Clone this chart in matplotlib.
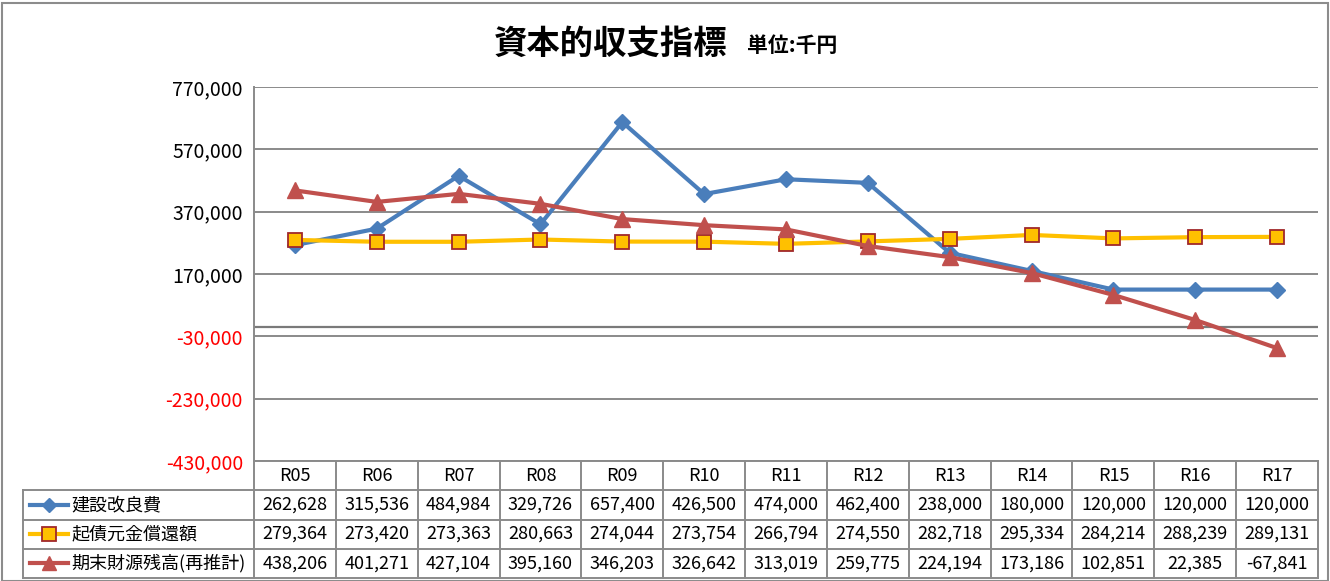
import matplotlib
matplotlib.use("Agg")
import matplotlib.pyplot as plt
from matplotlib.patches import Rectangle

# data
years = ["R05", "R06", "R07", "R08", "R09", "R10", "R11", "R12", "R13", "R14", "R15", "R16", "R17"]
kensetsu = [262628, 315536, 484984, 329726, 657400, 426500, 474000, 462400, 238000, 180000, 120000, 120000, 120000]
kisai = [279364, 273420, 273363, 280663, 274044, 273754, 266794, 274550, 282718, 295334, 284214, 288239, 289131]
zandaka = [438206, 401271, 427104, 395160, 346203, 326642, 313019, 259775, 224194, 173186, 102851, 22385, -67841]
names = ["建設改良費", "起債元金償還額", "期末財源残高(再推計)"]
yticks = [770000, 570000, 370000, 170000, -30000, -230000, -430000]

JP_FONT = ["Noto Sans CJK JP", "DejaVu Sans"]
plt.rcParams["font.family"] = JP_FONT

W, H = 1330, 581
fig = plt.figure(figsize=(W / 100, H / 100), dpi=100)

def px(x0, y0, x1, y1):
    # pixel box -> figure fraction
    return [x0 / W, 1 - y1 / H, (x1 - x0) / W, (y1 - y0) / H]

grid_c = "#8a8a8a"
styles = [
    dict(color="#4A7EBB", marker="D", ms=8, mfc="#4A7EBB", mec="#4A7EBB"),
    dict(color="#FFC000", marker="s", ms=10, mfc="#FFC000", mec="#A0282A", mew=1.3),
    dict(color="#C0504D", marker="^", ms=11, mfc="#C0504D", mec="#C0504D"),
]
series = [kensetsu, kisai, zandaka]

ax = fig.add_axes(px(254, 87, 1318, 461))
xs = list(range(len(years)))
for s, st in zip(series, styles):
    ax.plot(xs, s, lw=3, zorder=3, **st)

ax.set_xlim(-0.5, len(years) - 0.5)
ax.set_ylim(min(yticks), max(yticks))
ax.set_yticks(yticks)
ax.set_yticklabels([f"{v:,}" for v in yticks], fontsize=14)
for lab, v in zip(ax.get_yticklabels(), yticks):
    lab.set_color("red" if v < 0 else "black")
ax.tick_params(axis="y", length=0, pad=8)
ax.set_xticks([])
ax.grid(axis="y", color=grid_c, lw=1.4)
ax.axhline(0, color="#7a7a7a", lw=1.6, zorder=2)
for sp in ["top", "right", "bottom"]:
    ax.spines[sp].set_visible(False)
ax.spines["left"].set_color(grid_c)
ax.spines["left"].set_linewidth(1.4)

# data table below the plot
cw = (1318 - 254) / len(years)
left = -0.5 - (254 - 23) / cw
tab = fig.add_axes(px(23, 461, 1318, 578))
tab.set_xlim(left, len(years) - 0.5)
tab.set_ylim(4, 0)
tab.axis("off")
lc = dict(color=grid_c, lw=1.4, clip_on=False)
tab.plot([-0.5, len(years) - 0.5], [0, 0], **lc)
for r in range(1, 5):
    tab.plot([left, len(years) - 0.5], [r, r], **lc)
for k in range(len(years) + 1):
    tab.plot([k - 0.5, k - 0.5], [0, 4], **lc)
tab.plot([left, left], [1, 4], **lc)

for i, y in enumerate(years):
    tab.text(i, 0.5, y, ha="center", va="center", fontsize=13)
for r, (s, st, nm) in enumerate(zip(series, styles, names), start=1):
    for i, v in enumerate(s):
        tab.text(i, r + 0.5, f"{v:,}", ha="center", va="center", fontsize=13)
    lx0, lx1 = left + 0.09, left + 0.55
    tab.plot([lx0, lx1], [r + 0.5, r + 0.5], color=st["color"], lw=3, clip_on=False)
    tab.plot([(lx0 + lx1) / 2], [r + 0.5], ls="none", marker=st["marker"],
             ms=st["ms"] * 0.95, mfc=st["mfc"], mec=st["mec"], mew=st.get("mew", 1), clip_on=False)
    tab.text(lx1 + 0.04, r + 0.5, nm, ha="left", va="center", fontsize=13)

# title
fig.text(727 / W, 1 - 44 / H, "資本的収支指標", ha="right", va="center", fontsize=24,
         fontweight="bold")
fig.text(747 / W, 1 - 46 / H, "単位:千円", ha="left", va="center", fontsize=15,
         fontweight="bold")

# outer chart frame
fig.patches.append(Rectangle((2 / W, 0), (W - 4) / W, 1 - 3 / H, transform=fig.transFigure,
                             fill=False, ec="#8c8c8c", lw=1.5))

fig.savefig("out.png", dpi=100)
